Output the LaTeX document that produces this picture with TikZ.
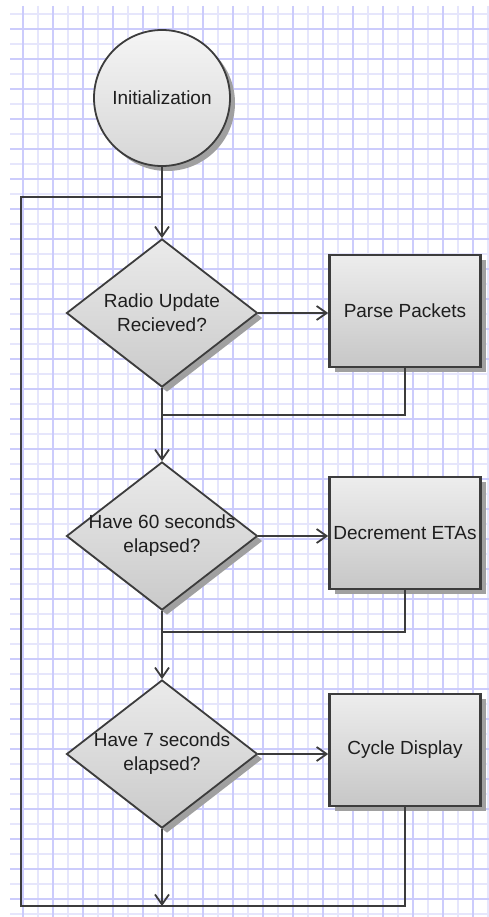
\documentclass[tikz,border=0pt]{standalone}
\usepackage{fontspec}
\setmainfont{Liberation Sans}
\usetikzlibrary{shapes.geometric,shadows,arrows.meta}
\definecolor{gmaj}{RGB}{204,204,252}
\definecolor{gmin}{RGB}{230,230,252}
\definecolor{edgec}{RGB}{60,60,60}
\definecolor{txtc}{RGB}{30,30,30}
\definecolor{shadc}{RGB}{160,160,160}
\begin{document}
\begin{tikzpicture}[x=1pt,y=-1pt,
  conn/.style={draw=edgec, line width=1.8pt},
  arr/.style={conn, -{Straight Barb[length=10pt,width=14pt]}},
  shad/.style={drop shadow={shadow xshift=5pt, shadow yshift=-5pt, fill=shadc, opacity=1}},
  lbl/.style={font=\fontsize{19}{24}\selectfont, text=txtc, align=center, inner sep=0pt},
  startcirc/.style={circle, draw=edgec, line width=1.8pt, minimum size=136pt, inner sep=0pt,
    top color=white!96!black, bottom color=white!84!black, shad},
  decision/.style={diamond, draw=edgec, line width=1.8pt, minimum width=191pt, minimum height=148pt,
    inner sep=0pt, top color=white!92!black, bottom color=white!79!black, shad},
  process/.style={rectangle, draw=edgec, line width=2.6pt, minimum width=151pt, minimum height=112pt,
    inner sep=0pt, top color=white!93!black, bottom color=white!78!black, shad,
    font=\fontsize{19}{24}\selectfont, text=txtc}
]
\useasboundingbox (0,0) rectangle (489,917);
\fill[white] (0,0) rectangle (489,917);
% grid: minor lines
\foreach \k in {0,...,30} {
  \draw[gmin, line width=1.5pt] (10,14+30*\k) -- (489,14+30*\k);
}
\foreach \k in {0,...,15} {
  \draw[gmin, line width=1.5pt] (38+30*\k,6) -- (38+30*\k,917);
}
% grid: major lines
\foreach \k in {0,...,15} {
  \draw[gmaj, line width=1.6pt] (23+30*\k,6) -- (23+30*\k,917);
}
\foreach \k in {0,...,29} {
  \draw[gmaj, line width=1.6pt] (10,29+30*\k) -- (489,29+30*\k);
}
% nodes
\node[startcirc] (init) at (162,98) {};
\node[lbl] (initt) at (init) {Initialization};
\node[decision] (d1) at (162,313) {};
\node[lbl] (d1t) at (d1) {Radio Update\\Recieved?};
\node[decision] (d2) at (162,536) {};
\node[lbl] (d2t) at (d2) {Have 60 seconds\\elapsed?};
\node[decision] (d3) at (162,754) {};
\node[lbl] (d3t) at (d3) {Have 7 seconds\\elapsed?};
\node[process] (p1) at (405,311) {Parse Packets};
\node[process] (p2) at (405,533) {Decrement ETAs};
\node[process] (p3) at (405,750) {Cycle Display};
% coordinates
\coordinate (j0) at (162,197);
\coordinate (lt) at (21,197);
\coordinate (lb) at (21,906);
\coordinate (j1) at (162,415);
\coordinate (j2) at (162,632);
% connectors
\draw[conn] (init.south) -- (j0);
\draw[arr] (j0) -- (d1.north);
\draw[arr] (d1.east) -- (d1.east -| p1.west);
\draw[conn] (p1.south) |- (j1);
\draw[arr] (d1.south) -- (d2.north);
\draw[arr] (d2.east) -- (d2.east -| p2.west);
\draw[conn] (p2.south) |- (j2);
\draw[arr] (d2.south) -- (d3.north);
\draw[arr] (d3.east) -- (d3.east -| p3.west);
\draw[conn] (p3.south) |- (lb) -- (lt) -- (j0);
\draw[arr] (d3.south) -- (d3.south |- lb);
\end{tikzpicture}
\end{document}
